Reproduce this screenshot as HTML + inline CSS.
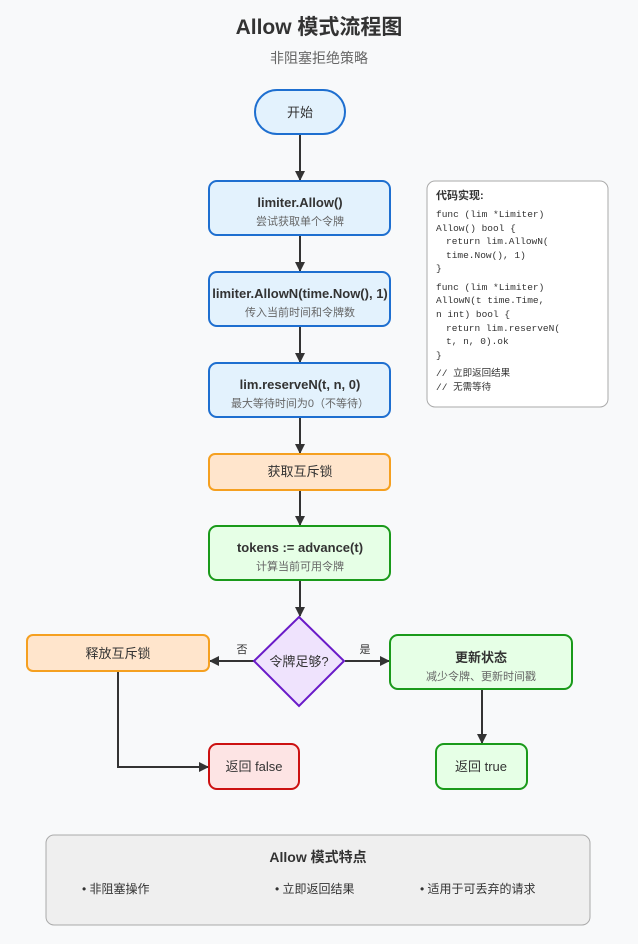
<!DOCTYPE html>
<html><head><meta charset="utf-8"><style>
html,body{margin:0;padding:0;background:#f8f9fa;}
svg{display:block;font-family:"Liberation Sans","Noto Sans CJK SC",sans-serif;}
.m{font-family:"Liberation Mono","Noto Sans CJK SC",monospace;font-size:9.5px;fill:#333;}
</style></head><body>
<svg width="638" height="944" viewBox="0 0 638 944" xmlns="http://www.w3.org/2000/svg">
<defs><marker id="a" markerWidth="10" markerHeight="10" refX="9" refY="5" orient="auto" markerUnits="userSpaceOnUse"><path d="M0,0 L10,5 L0,10 z" fill="#333"/></marker></defs>
<rect width="638" height="944" fill="#f8f9fa"/>
<text x="319" y="34" text-anchor="middle" font-size="21" font-weight="bold" fill="#333">Allow 模式流程图</text>
<text x="319" y="63" text-anchor="middle" font-size="14" fill="#666">非阻塞拒绝策略</text>

<g stroke="#333" stroke-width="2" fill="none">
<line x1="300" y1="134" x2="300" y2="180" marker-end="url(#a)"/>
<line x1="300" y1="235" x2="300" y2="271" marker-end="url(#a)"/>
<line x1="300" y1="326" x2="300" y2="362" marker-end="url(#a)"/>
<line x1="300" y1="417" x2="300" y2="453" marker-end="url(#a)"/>
<line x1="300" y1="490" x2="300" y2="525" marker-end="url(#a)"/>
<line x1="300" y1="580" x2="300" y2="616" marker-end="url(#a)"/>
<line x1="254" y1="661" x2="210" y2="661" marker-end="url(#a)"/>
<line x1="345" y1="661" x2="389" y2="661" marker-end="url(#a)"/>
<line x1="482" y1="689" x2="482" y2="743" marker-end="url(#a)"/>
<polyline points="118,671 118,767 208,767" marker-end="url(#a)"/>
</g>

<rect x="255" y="90" width="90" height="44" rx="22" fill="#e3f2fd" stroke="#1e6fd0" stroke-width="2"/>
<text x="300" y="117" text-anchor="middle" font-size="13" fill="#333">开始</text>

<rect x="209" y="181" width="181" height="54" rx="8" fill="#e3f2fd" stroke="#1e6fd0" stroke-width="2"/>
<text x="300" y="207" text-anchor="middle" font-size="13" font-weight="bold" fill="#333">limiter.Allow()</text>
<text x="300" y="225" text-anchor="middle" font-size="11" fill="#666">尝试获取单个令牌</text>

<rect x="209" y="272" width="181" height="54" rx="8" fill="#e3f2fd" stroke="#1e6fd0" stroke-width="2"/>
<text x="300" y="298" text-anchor="middle" font-size="13" font-weight="bold" fill="#333">limiter.AllowN(time.Now(), 1)</text>
<text x="300" y="316" text-anchor="middle" font-size="11" fill="#666">传入当前时间和令牌数</text>

<rect x="209" y="363" width="181" height="54" rx="8" fill="#e3f2fd" stroke="#1e6fd0" stroke-width="2"/>
<text x="300" y="389" text-anchor="middle" font-size="13" font-weight="bold" fill="#333">lim.reserveN(t, n, 0)</text>
<text x="300" y="407" text-anchor="middle" font-size="11" fill="#666">最大等待时间为0（不等待）</text>

<rect x="209" y="454" width="181" height="36" rx="6" fill="#ffe5cc" stroke="#f5a020" stroke-width="2"/>
<text x="300" y="476" text-anchor="middle" font-size="13" fill="#333">获取互斥锁</text>

<rect x="209" y="526" width="181" height="54" rx="8" fill="#e6ffe6" stroke="#1a9a1a" stroke-width="2"/>
<text x="300" y="552" text-anchor="middle" font-size="13" font-weight="bold" fill="#333">tokens := advance(t)</text>
<text x="300" y="570" text-anchor="middle" font-size="11" fill="#666">计算当前可用令牌</text>

<polygon points="299,617 344,661 299,706 254,661" fill="#efe3fd" stroke="#6a1bc8" stroke-width="2"/>
<text x="299" y="666" text-anchor="middle" font-size="13" fill="#333">令牌足够?</text>
<text x="242" y="653" text-anchor="middle" font-size="11" fill="#333">否</text>
<text x="365" y="653" text-anchor="middle" font-size="11" fill="#333">是</text>

<rect x="27" y="635" width="182" height="36" rx="6" fill="#ffe5cc" stroke="#f5a020" stroke-width="2"/>
<text x="118" y="658" text-anchor="middle" font-size="13" fill="#333">释放互斥锁</text>

<rect x="390" y="635" width="182" height="54" rx="8" fill="#e6ffe6" stroke="#1a9a1a" stroke-width="2"/>
<text x="481" y="662" text-anchor="middle" font-size="13" font-weight="bold" fill="#333">更新状态</text>
<text x="481" y="680" text-anchor="middle" font-size="11" fill="#666">减少令牌、更新时间戳</text>

<rect x="209" y="744" width="90" height="45" rx="8" fill="#fde4e4" stroke="#cc1111" stroke-width="2"/>
<text x="254" y="771" text-anchor="middle" font-size="13" fill="#333">返回 false</text>

<rect x="436" y="744" width="91" height="45" rx="8" fill="#e6ffe6" stroke="#1a9a1a" stroke-width="2"/>
<text x="481" y="771" text-anchor="middle" font-size="13" fill="#333">返回 true</text>

<rect x="427" y="181" width="181" height="226" rx="8" fill="#fff" stroke="#aaa" stroke-width="1"/>
<text x="436" y="199" font-size="11" font-weight="bold" fill="#333">代码实现:</text>
<text class="m" x="436" y="217">func (lim *Limiter)</text>
<text class="m" x="436" y="231">Allow() bool {</text>
<text class="m" x="446" y="244">return lim.AllowN(</text>
<text class="m" x="446" y="258">time.Now(), 1)</text>
<text class="m" x="436" y="271">}</text>
<text class="m" x="436" y="290">func (lim *Limiter)</text>
<text class="m" x="436" y="303">AllowN(t time.Time,</text>
<text class="m" x="436" y="317">n int) bool {</text>
<text class="m" x="446" y="331">return lim.reserveN(</text>
<text class="m" x="446" y="344">t, n, 0).ok</text>
<text class="m" x="436" y="358">}</text>
<text class="m" x="436" y="376">// 立即返回结果</text>
<text class="m" x="436" y="390">// 无需等待</text>

<rect x="46" y="835" width="544" height="90" rx="8" fill="#efefef" stroke="#aaa" stroke-width="1"/>
<text x="318" y="862" text-anchor="middle" font-size="14" font-weight="bold" fill="#333">Allow 模式特点</text>
<text x="82" y="893" font-size="12" fill="#333">• 非阻塞操作</text>
<text x="275" y="893" font-size="12" fill="#333">• 立即返回结果</text>
<text x="420" y="893" font-size="12" fill="#333">• 适用于可丢弃的请求</text>
</svg>
</body></html>
